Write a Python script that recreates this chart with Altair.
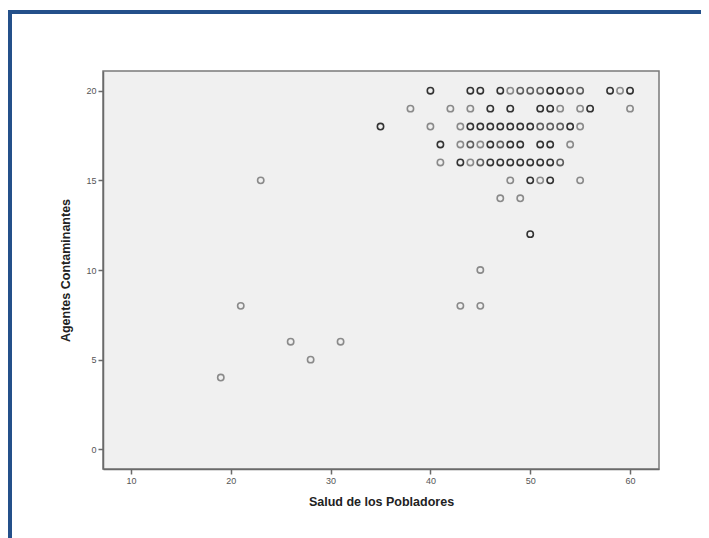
import altair as alt
import pandas as pd

# Scatter data: Salud de los Pobladores (x), Agentes Contaminantes (y),
# frecuencia = approximate number of overlapping observations (darker circles)
salud = (
    [40, 44, 45, 47, 48, 49, 50, 51, 52, 53, 54, 55, 58, 59, 60]
    + [38, 42, 44, 46, 48, 51, 52, 53, 55, 56, 60]
    + [35, 40, 43, 44, 45, 46, 47, 48, 49, 50, 51, 52, 53, 54, 55]
    + [41, 43, 44, 45, 46, 47, 48, 49, 51, 52, 54]
    + [41, 43, 44, 45, 46, 47, 48, 49, 50, 51, 52, 53]
    + [23, 48, 50, 51, 52, 55]
    + [47, 49]
    + [50]
    + [45]
    + [21, 43, 45]
    + [26, 31]
    + [28]
    + [19]
)
agentes = (
    [20] * 15 + [19] * 11 + [18] * 15 + [17] * 11 + [16] * 12
    + [15] * 6 + [14] * 2 + [12] + [10] + [8] * 3 + [6] * 2 + [5] + [4]
)
frecuencia = (
    [3, 3, 3, 3, 1, 2, 2, 2, 3, 3, 2, 2, 3, 1, 3]
    + [1, 1, 1, 3, 3, 3, 3, 1, 1, 3, 1]
    + [3, 1, 1, 3, 3, 3, 3, 3, 3, 3, 2, 2, 2, 3, 1]
    + [3, 1, 2, 1, 3, 2, 3, 3, 3, 3, 1]
    + [1, 3, 1, 2, 3, 3, 3, 3, 3, 3, 3, 2]
    + [1, 1, 3, 1, 3, 1]
    + [1, 1]
    + [3]
    + [1]
    + [1, 1, 1]
    + [1, 1]
    + [1]
    + [1]
)

x_ticks = [10, 20, 30, 40, 50, 60]
y_ticks = [0, 5, 10, 15, 20]

df = pd.DataFrame({"salud": salud, "agentes": agentes, "frecuencia": frecuencia})

W, H = 556, 398

points = alt.Chart(df).mark_point(
    shape="circle", filled=False, size=40, strokeWidth=1.6, opacity=1
).encode(
    x=alt.X(
        "salud:Q",
        title="Salud de los Pobladores",
        scale=alt.Scale(domain=[7.2, 62.9], nice=False, zero=False),
        axis=alt.Axis(values=x_ticks, grid=False),
    ),
    y=alt.Y(
        "agentes:Q",
        title="Agentes Contaminantes",
        scale=alt.Scale(domain=[-1.1, 21.1], nice=False, zero=False),
        axis=alt.Axis(values=y_ticks, grid=False),
    ),
    color=alt.Color(
        "frecuencia:O",
        scale=alt.Scale(domain=[1, 2, 3], range=["#8a8a8a", "#5e5e5e", "#333333"]),
        legend=None,
    ),
)

frame_color = "#24508a"
frame_left = alt.Chart(df).mark_rule(color=frame_color, strokeWidth=4).encode(
    x=alt.value(-93), y=alt.value(-61), y2=alt.value(480)
)
frame_top = alt.Chart(df).mark_rule(color=frame_color, strokeWidth=4).encode(
    x=alt.value(-95), x2=alt.value(610), y=alt.value(-59)
)

chart = alt.layer(points, frame_left, frame_top).properties(
    width=W,
    height=H,
    autosize=alt.AutoSizeParams(type="none"),
    padding={"left": 95, "top": 63, "right": 42, "bottom": 69},
    background="white",
).configure_view(
    fill="#f0f0f0", stroke="#7a7a7a", strokeWidth=1.5
).configure_axis(
    domainColor="#6a6a6a",
    domainWidth=1.5,
    tickColor="#6a6a6a",
    tickSize=5,
    tickWidth=1.5,
    labelColor="#555555",
    labelFontSize=9,
    labelFont="Liberation Sans",
    labelPadding=2,
    titleFont="Liberation Sans",
    titleFontSize=12.5,
    titleFontWeight="bold",
    titleColor="#222222",
).configure_axisX(
    titlePadding=10
).configure_axisY(
    titlePadding=13
)

chart.save("out.html", embed_options={"renderer": "svg", "actions": False})
